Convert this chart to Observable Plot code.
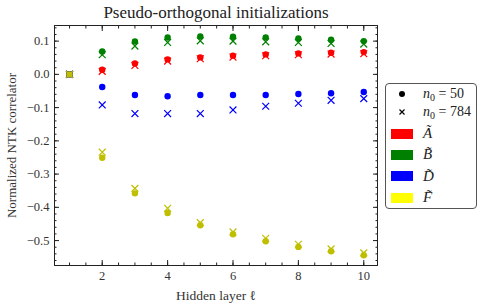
<!DOCTYPE html>
<html>
<head>
<meta charset="utf-8">
<script src="https://cdn.jsdelivr.net/npm/d3@7"></script>
<script src="https://cdn.jsdelivr.net/npm/@observablehq/plot@0.6"></script>
<style>
body{margin:0;background:#fff;}
#wrap{position:relative;width:483px;height:306px;font-family:'Liberation Serif',serif;}
#wrap svg text, #legend, #legend *{font-family:'Liberation Serif',serif !important;}
#legend{position:absolute;left:385px;top:83px;width:92px;height:126px;border:1px solid #555;border-radius:4px;box-sizing:border-box;background:#fff;font-size:14px;color:#222;}
.row{position:absolute;left:0;height:20px;display:flex;align-items:center;}
.sw{width:22px;height:10px;margin-left:5px;margin-right:10px;display:flex;justify-content:center;align-items:center;}
sub{font-size:10px;vertical-align:-3px;}
</style>
</head>
<body>
<div id="wrap"></div>
<script>
const layers=[1,2,3,4,5,6,7,8,9,10];
const A50=[0,0.014,0.033,0.045,0.051,0.056,0.060,0.063,0.065,0.067];
const A784=[0,0.009,0.027,0.040,0.047,0.052,0.056,0.059,0.061,0.062];
const B50=[0,0.069,0.099,0.111,0.114,0.113,0.111,0.108,0.104,0.100];
const B784=[0,0.059,0.085,0.096,0.101,0.100,0.098,0.096,0.093,0.091];
const D50=[0,-0.038,-0.062,-0.066,-0.062,-0.062,-0.062,-0.059,-0.057,-0.053];
const D784=[0,-0.092,-0.118,-0.118,-0.118,-0.107,-0.096,-0.087,-0.078,-0.073];
const F50=[0,-0.251,-0.358,-0.417,-0.454,-0.481,-0.502,-0.519,-0.532,-0.544];
const F784=[0,-0.234,-0.343,-0.403,-0.446,-0.474,-0.493,-0.511,-0.525,-0.537];
const xTicks=[2,4,6,8,10];
const yTicks=[0.1,0.0,-0.1,-0.2,-0.3,-0.4,-0.5];
const seriesNames=["A","B","D","F"];
const legendLabels={A:"Ã",B:"B̃",D:"D̃",F:"F̃"};
const markerColors={A:"#ff0000",B:"#008000",D:"#0000ff",F:"#bfbf00"};
const legendColors={A:"#ff0000",B:"#008000",D:"#0000ff",F:"#ffff00"};
const vals50={A:A50,B:B50,D:D50,F:F50};
const vals784={A:A784,B:B784,D:D784,F:F784};

const dots=[], crosses=[];
for(const s of seriesNames){
  layers.forEach((l,i)=>{
    dots.push({s,l,v:vals50[s][i]});
    crosses.push({s,l,v:vals784[s][i]});
  });
}
const xMinor=d3.range(1,10.01,0.5);
const yMinor=d3.range(-56,15,2).map(d=>d/100);
const font="'Liberation Serif', serif";

const chart=Plot.plot({
  width:483,height:306,
  marginLeft:54,marginRight:106,marginTop:25,marginBottom:41,
  style:{fontFamily:font,fontSize:"12px",color:"#333",background:"#fff"},
  x:{domain:[0.54,10.42]},
  y:{domain:[-0.575,0.147]},
  marks:[
    Plot.axisX(xMinor,{anchor:"bottom",tickSize:-2.5,text:null,label:null,stroke:"#222"}),
    Plot.axisX(xMinor,{anchor:"top",tickSize:-2.5,text:null,label:null,stroke:"#222"}),
    Plot.axisX(xTicks,{anchor:"bottom",tickSize:-5,text:null,label:null,stroke:"#222"}),
    Plot.axisX(xTicks,{anchor:"top",tickSize:-5,text:null,label:null,stroke:"#222"}),
    Plot.axisX(xTicks,{anchor:"bottom",tickSize:0,tickPadding:6,fontSize:12.5,label:null,fontFamily:font,tickFormat:d3.format("d")}),
    Plot.axisY(yMinor,{anchor:"left",tickSize:-2.5,text:null,label:null,stroke:"#222"}),
    Plot.axisY(yMinor,{anchor:"right",tickSize:-2.5,text:null,label:null,stroke:"#222"}),
    Plot.axisY(yTicks,{anchor:"left",tickSize:-5,text:null,label:null,stroke:"#222"}),
    Plot.axisY(yTicks,{anchor:"right",tickSize:-5,text:null,label:null,stroke:"#222"}),
    Plot.axisY(yTicks,{anchor:"left",tickSize:0,tickPadding:5,fontSize:12.5,label:null,fontFamily:font,tickFormat:d3.format(".1f")}),
    Plot.frame({stroke:"#222"}),
    ...seriesNames.flatMap(s=>[
      Plot.dot(dots.filter(d=>d.s===s),{x:"l",y:"v",r:3.2,fill:markerColors[s],stroke:"none"}),
      Plot.dot(crosses.filter(d=>d.s===s),{x:"l",y:"v",r:3.2,symbol:"times",stroke:markerColors[s],strokeWidth:1.2})
    ]),
    Plot.text(["Pseudo-orthogonal initializations"],{frameAnchor:"top",lineAnchor:"middle",dy:-13,fontSize:17,fontFamily:font,fill:"#222"}),
    Plot.text(["Normalized NTK correlator"],{frameAnchor:"left",textAnchor:"middle",lineAnchor:"middle",rotate:-90,dx:-43,fontSize:13,fontFamily:font,fill:"#333"}),
    Plot.text(["Hidden layer ℓ"],{frameAnchor:"bottom",textAnchor:"middle",lineAnchor:"middle",dy:30,fontSize:13.5,fontFamily:font,fill:"#333"})
  ]
});
const wrap=document.getElementById("wrap");
wrap.appendChild(chart);

const leg=document.createElement("div");
leg.id="legend";
const rows=[
  {sw:'<svg width="8" height="8"><circle cx="4" cy="4" r="3" fill="#000"/></svg>',t:'<i>n</i><sub>0</sub> = 50'},
  {sw:'<svg width="8" height="8"><path d="M1.5,1.5L6.5,6.5M6.5,1.5L1.5,6.5" stroke="#000" stroke-width="1.2"/></svg>',t:'<i>n</i><sub>0</sub> = 784'},
  ...seriesNames.map(s=>({sw:`<div style="width:22px;height:10px;background:${legendColors[s]}"></div>`,t:`<i style="font-size:15px">${legendLabels[s]}</i>`}))
];
rows.forEach((r,i)=>{
  const d=document.createElement("div");
  d.className="row";
  d.style.top=(i===0?0:i===1?18:i*21.3-3)+"px";
  d.innerHTML=`<div class="sw">${r.sw}</div><div>${r.t}</div>`;
  leg.appendChild(d);
});
wrap.appendChild(leg);
</script>
</body>
</html>
